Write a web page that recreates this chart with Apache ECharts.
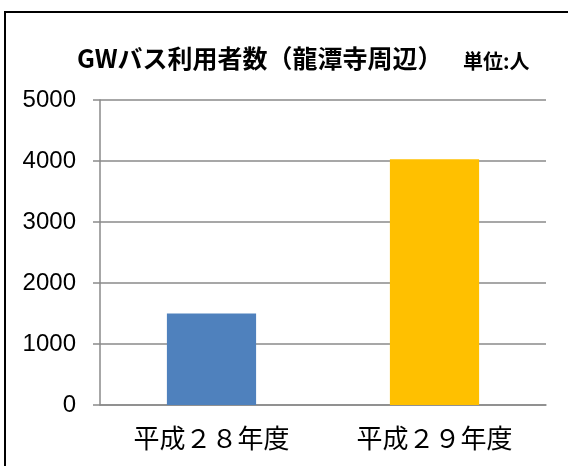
<!DOCTYPE html>
<html><head><meta charset="utf-8">
<script src="https://cdn.jsdelivr.net/npm/echarts@6/dist/echarts.min.js"></script>
<style>html,body{margin:0;padding:0;background:#fff}#c{width:568px;height:466px}</style>
</head><body><div id="c"></div>
<script>
const categories = ['平成２８年度', '平成２９年度'];
const values = [1500, 4030];
const barColors = ['#4F81BD', '#FFC000'];
const titleText = 'GWバス利用者数（龍潭寺周辺）';
const unitText = '単位:人';

const chart = echarts.init(document.getElementById('c'), null, {renderer: 'canvas'});
chart.setOption({
  animation: false,
  backgroundColor: '#fff',
  title: [
    {text: titleText, left: 72, top: 41,
     textStyle: {fontFamily: 'Noto Sans CJK JP', fontWeight: 'bold', fontSize: 25, color: '#000'}},
    {text: unitText, left: 458, top: 46,
     textStyle: {fontFamily: 'Noto Sans CJK JP', fontWeight: 'bold', fontSize: 20, color: '#000'}}
  ],
  graphic: [{
    type: 'rect', shape: {x: 5, y: 12, width: 600, height: 500},
    style: {fill: 'none', stroke: '#000', lineWidth: 2}, silent: true
  }],
  grid: {left: 100, right: 22, top: 100, bottom: 61},
  xAxis: {
    type: 'category', data: categories,
    axisLine: {lineStyle: {color: '#8a8a8a', width: 1.5}},
    axisTick: {show: false},
    axisLabel: {color: '#000', fontSize: 26, fontFamily: 'Noto Sans CJK JP', margin: 20}
  },
  yAxis: {
    type: 'value', min: 0, max: 5000, interval: 1000,
    axisLine: {show: true, lineStyle: {color: '#8a8a8a', width: 1.5}},
    axisTick: {show: true, length: 7, lineStyle: {color: '#8a8a8a', width: 1.5}},
    splitLine: {lineStyle: {color: '#8a8a8a', width: 1.5}},
    axisLabel: {color: '#000', fontSize: 24, fontFamily: 'Liberation Sans', margin: 24,
                formatter: v => String(v)}
  },
  series: [{
    type: 'bar', barWidth: '40%',
    data: values.map((v, i) => ({value: v, itemStyle: {color: barColors[i]}}))
  }]
});
</script></body></html>
